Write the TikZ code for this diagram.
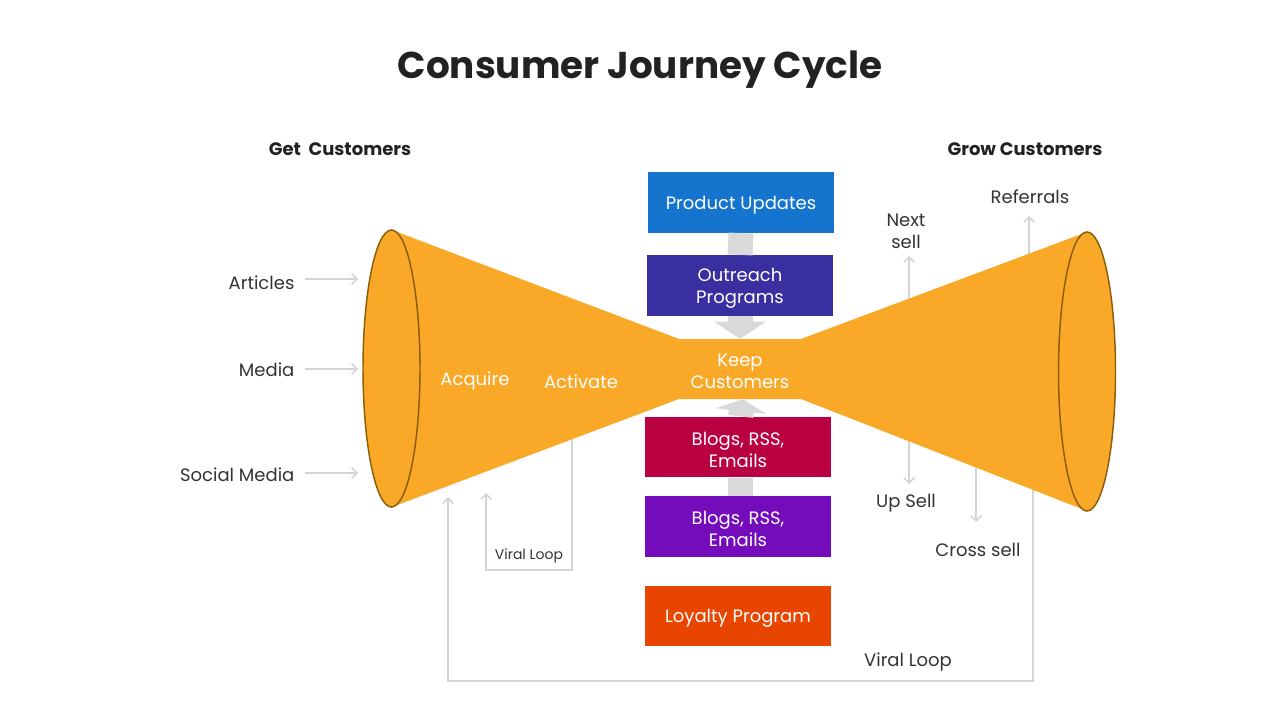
\documentclass[tikz,border=0pt]{standalone}
\usepackage{fontspec}
\setmainfont{Poppins}
\usepackage{xcolor}
\usepackage{tikz}
\usetikzlibrary{positioning,arrows.meta}

\definecolor{funnel}{HTML}{F9A828}
\definecolor{rim}{HTML}{8B5E0A}
\definecolor{updc}{HTML}{1474CE}
\definecolor{outc}{HTML}{3A2FA1}
\definecolor{blogc}{HTML}{B90040}
\definecolor{blogd}{HTML}{740CBB}
\definecolor{loyc}{HTML}{E74500}
\definecolor{feedgray}{HTML}{D9D9D9}
\definecolor{guidegray}{HTML}{D4D4D4}
\definecolor{textdark}{HTML}{333333}
\definecolor{titledark}{HTML}{222222}

\begin{document}
\begin{tikzpicture}[
  x=0.75pt, y=-0.75pt,
  lbl/.style={text=textdark, font=\fontsize{13.5}{16.5}\selectfont, align=center, inner sep=1pt},
  small/.style={text=textdark, font=\fontsize{10.5}{12}\selectfont, inner sep=1pt},
  head/.style={text=titledark, font=\bfseries\fontsize{13.5}{16.5}\selectfont},
  inner/.style={text=white, font=\fontsize{13.5}{16.5}\selectfont, align=center},
  tbox/.style={minimum width=139.5pt, minimum height=45.5pt, inner sep=0pt},
  feed/.style={line width=18.75pt, draw=feedgray},
  guide/.style={draw=guidegray, line width=1.1pt, -{Straight Barb[length=4pt,width=8pt]}},
]
\useasboundingbox (0,0) rectangle (1280,720);

% Title and headings
\node[text=titledark, font=\bfseries\fontsize{28}{32}\selectfont] (title) at (640,70) {Consumer Journey Cycle};
\node[head] (get) at (340,149) {Get\ \ Customers};
\node[head] (grow) at (1025,149) {Grow Customers};

% Arrow ends
\coordinate (ns) at (909,256);
\coordinate (us) at (909,484);
\coordinate (csa) at (976,430);
\coordinate (csb) at (976,522);
\coordinate (rfa) at (1029,320);
\coordinate (rfb) at (1029,216);
\coordinate (vla) at (1033,430);
\coordinate (vlb) at (448,497);
\coordinate (vsa) at (572,400);
\coordinate (vsb) at (486,493);

% Guides behind the funnel
\draw[guide, {Straight Barb[length=4pt,width=8pt]}-{Straight Barb[length=4pt,width=8pt]}] (us) -- (ns);
\draw[guide] (csa) -- (csb);
\draw[guide] (rfa) -- (rfb);
\draw[guide] (vla) |- (448,681) -- (vlb);
\draw[guide] (vsa) |- (486,570) -- (vsb);

% Funnel
\fill[funnel] (392,230) -- (679,339) -- (801,339) -- (1087,232) -- (1087,511)
  -- (801,399) -- (679,399) -- (392,507) -- cycle;
\draw[rim, fill=funnel, line width=1.1pt] (391.5,368.5) ellipse [x radius=28.5, y radius=138.5];
\draw[rim, fill=funnel, line width=1.1pt] (1087,371.5) ellipse [x radius=28.5, y radius=139.5];

\node[inner] (acq) at (475,381) {Acquire};
\node[inner] (act) at (581,382) {Activate};
\node[tbox, minimum width=91.5pt, minimum height=45pt] (keep) at (740,369) {};
\node[inner] (keeptxt) at ([yshift=-1.5pt]keep.center) {Keep\\Customers};

% Left inputs
\node[lbl, anchor=east] (art) at (296,283) {Articles};
\node[lbl, anchor=east] (med) at (296,370) {Media};
\node[lbl, anchor=east] (soc) at (296,475) {Social Media};
\coordinate (arte) at (358,279);
\coordinate (mede) at (358,369);
\coordinate (soce) at (358,473);
\draw[guide] (art.east |- arte) ++(9,0) -- (arte);
\draw[guide] (med.east |- mede) ++(9,0) -- (mede);
\draw[guide] (soc.east |- soce) ++(9,0) -- (soce);

% Right outputs
\node[lbl] (next) at (906,231) {Next\\sell};
\node[lbl] (up) at (906,503) {Up Sell};
\node[lbl] (cross) at (978,550) {Cross sell};
\node[lbl] (refer) at (1030,197) {Referrals};
\node[lbl] (viral) at (908,662) {Viral Loop};
\node[small] (viralsm) at (529,556) {Viral Loop};

% Retention boxes
\node[tbox, fill=updc] (upd) at (741,202.5) {};
\node[tbox, fill=outc] (out) at (740,285.5) {};
\node[tbox, fill=blogc] (blog1) at (738,447) {};
\node[tbox, fill=blogd] (blog2) at (738,526.5) {};
\node[tbox, fill=loyc] (loyal) at (738,616) {};
\node[inner] (updtxt) at ([yshift=-2pt]upd.center) {Product Updates};
\node[inner] (outtxt) at ([yshift=-2pt]out.center) {Outreach\\Programs};
\node[inner] (blog1txt) at ([yshift=-2pt]blog1.center) {Blogs, RSS,\\Emails};
\node[inner] (blog2txt) at ([yshift=-2pt]blog2.center) {Blogs, RSS,\\Emails};
\node[inner] (loyaltxt) at ([yshift=-2pt]loyal.center) {Loyalty Program};

% Feeds into Keep Customers
\draw[feed] (upd.south) -- (out.north);
\draw[feed] ([xshift=1.5pt]blog2.north) -- ([xshift=1.5pt]blog1.south);
\draw[feed, -{Triangle[width=38.25pt,length=12.75pt]}] (out.south) -- (keep.north);
\draw[feed, -{Triangle[width=38.25pt,length=9pt]}] ([xshift=2pt]blog1.north) -- ([xshift=2pt]keep.south);

\end{tikzpicture}
\end{document}
